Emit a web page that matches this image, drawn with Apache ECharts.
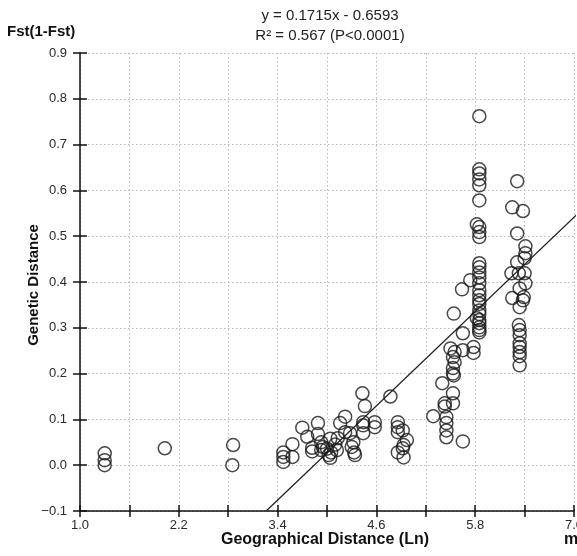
<!DOCTYPE html>
<html>
<head>
<meta charset="utf-8">
<script src="https://cdn.jsdelivr.net/npm/echarts@6/dist/echarts.min.js"></script>
<style>
html,body{margin:0;padding:0;background:#fff;overflow:hidden;}
#chart{width:577px;height:556px;}
</style>
</head>
<body>
<div id="chart"></div>
<script>
// ---- data ----
const xTicksLabelled = ['1.0','2.2','3.4','4.6','5.8','7.0'];
const yTickLabels = ['\u22120.1','0.0','0.1','0.2','0.3','0.4','0.5','0.6','0.7','0.8','0.9'];
const slope = 0.1715;
const intercept = -0.6593;
const titleLine1 = 'y = 0.1715x - 0.6593';
const titleLine2 = 'R\u00b2 = 0.567 (P<0.0001)';

const ptsLow = [
  [1.30,0.026],[1.30,0.011],[1.30,0.0],
  [2.03,0.037],
  [2.86,0.044],[2.85,0.0],
  [3.47,0.028],[3.47,0.018],[3.47,0.007],
  [3.58,0.046],[3.58,0.018]
];
const ptsMid = [
  [3.70,0.082],[3.76,0.062],[3.82,0.038],[3.82,0.030],
  [3.89,0.092],[3.89,0.068],[3.93,0.050],[3.93,0.033],[3.95,0.040],
  [4.04,0.058],[4.02,0.022],[4.05,0.028],[4.04,0.016],[4.00,0.036],
  [4.16,0.092],[4.22,0.106],[4.22,0.072],[4.13,0.059],[4.12,0.033],[4.10,0.045],
  [4.28,0.070],[4.32,0.050],[4.33,0.028],[4.34,0.022],[4.30,0.040],
  [4.43,0.157],[4.46,0.129],[4.44,0.094],[4.44,0.087],[4.44,0.070],
  [4.58,0.094],[4.58,0.083],
  [4.77,0.150],
  [4.86,0.094],[4.86,0.083],[4.86,0.072],[4.92,0.076],[4.97,0.055],[4.93,0.044],[4.86,0.028],[4.93,0.017],[4.92,0.037]
];
const ptsHigh = [
  [5.29,0.107],[5.40,0.179],[5.43,0.135],[5.43,0.128],[5.53,0.157],[5.53,0.135],
  [5.45,0.105],[5.45,0.092],[5.45,0.076],[5.45,0.061],[5.65,0.052],
  [5.50,0.255],[5.55,0.247],[5.53,0.236],[5.55,0.225],[5.53,0.212],[5.53,0.200],[5.54,0.196],
  [5.65,0.251],[5.78,0.258],[5.78,0.245],[5.65,0.288],[5.54,0.331],[5.64,0.384],[5.74,0.404]
];
const col585 = [
  [5.85,0.762],[5.85,0.646],[5.85,0.637],[5.85,0.624],[5.85,0.611],[5.85,0.578],
  [5.82,0.526],[5.85,0.520],[5.85,0.509],[5.85,0.498],
  [5.85,0.441],[5.85,0.432],[5.85,0.421],[5.85,0.410],[5.85,0.397],[5.85,0.382],
  [5.85,0.371],[5.85,0.360],[5.85,0.352],[5.85,0.338],[5.85,0.330],[5.82,0.321],
  [5.85,0.317],[5.85,0.310],[5.85,0.301],[5.85,0.295],[5.85,0.290]
];
const col635 = [
  [6.31,0.620],[6.25,0.563],[6.38,0.555],[6.31,0.506],[6.41,0.478],[6.41,0.463],
  [6.40,0.452],[6.31,0.443],[6.24,0.419],[6.33,0.419],[6.40,0.419],[6.41,0.397],
  [6.34,0.386],[6.25,0.365],[6.39,0.367],[6.34,0.345],[6.38,0.360],
  [6.33,0.306],[6.34,0.295],[6.34,0.284],[6.34,0.266],[6.34,0.258],[6.34,0.247],
  [6.34,0.238],[6.34,0.218]
];

const points = [].concat(ptsLow, ptsMid, ptsHigh, col585, col635);
const xMin = 1.0, xMax = 7.0, yMin = -0.1, yMax = 0.9;
const xStart = (yMin - intercept) / slope;
const xEnd = 7.05;
const regLine = [[xStart, yMin], [xEnd, slope * xEnd + intercept]];

const chart = echarts.init(document.getElementById('chart'), null, {renderer:'canvas'});
const font = '"Liberation Sans", Arial, sans-serif';
const gridLine = {show:true, lineStyle:{color:'#b8b8b8', type:[1.5,2.5], width:1}};

function xLab(v){
  const k = Math.round((v - xMin) / 0.6);
  return k % 2 === 0 ? xTicksLabelled[k/2] : '';
}
function yLab(v){
  const k = Math.round((v - yMin) / 0.1);
  return yTickLabels[k] || '';
}

chart.setOption({
  animation:false,
  backgroundColor:'#fff',
  title:[
    {text:titleLine1, left:325, top:3, textAlign:'center',
     textStyle:{fontFamily:font, fontSize:15, fontWeight:'normal', color:'#222'}},
    {text:titleLine2, left:325, top:23, textAlign:'center',
     textStyle:{fontFamily:font, fontSize:15, fontWeight:'normal', color:'#222'}}
  ],
  grid:{left:80, right:3, top:53, bottom:45, containLabel:false, outerBoundsMode:'none'},
  xAxis:[
    {type:'value', min:xMin, max:xMax, interval:0.6, position:'bottom',
     axisLine:{show:true, onZero:false, lineStyle:{color:'#111', width:1.5}},
     axisTick:{show:true, inside:false, length:6, lineStyle:{color:'#111', width:1.5}},
     axisLabel:{formatter:xLab, margin:8, fontFamily:font, fontSize:13, color:'#2a2a2a', showMaxLabel:true, showMinLabel:true, hideOverlap:false},
     splitLine:gridLine},
    {type:'value', min:xMin, max:xMax, interval:0.6, position:'bottom',
     axisLine:{show:false, onZero:false},
     axisTick:{show:true, inside:true, length:6, lineStyle:{color:'#111', width:1.5}},
     axisLabel:{show:false}, splitLine:{show:false}}
  ],
  yAxis:[
    {type:'value', min:yMin, max:yMax, interval:0.1, position:'left',
     axisLine:{show:true, onZero:false, lineStyle:{color:'#111', width:1.5}},
     axisTick:{show:true, inside:false, length:7, lineStyle:{color:'#111', width:1.5}},
     axisLabel:{formatter:yLab, margin:13, fontFamily:font, fontSize:13, color:'#2a2a2a'},
     splitLine:gridLine},
    {type:'value', min:yMin, max:yMax, interval:0.1, position:'left',
     axisLine:{show:false, onZero:false},
     axisTick:{show:true, inside:true, length:7, lineStyle:{color:'#111', width:1.5}},
     axisLabel:{show:false}, splitLine:{show:false}}
  ],
  graphic:[
    {type:'text', left:7, top:24, style:{text:'Fst(1-Fst)', font:'bold 15px '+font, fill:'#111'}},
    {type:'text', x:26, y:285, rotation:Math.PI/2,
     style:{text:'Genetic Distance', font:'bold 15px '+font, fill:'#111', align:'center', verticalAlign:'top'}},
    {type:'text', x:325, y:532, style:{text:'Geographical Distance (Ln)', font:'bold 16px '+font, fill:'#111', align:'center', verticalAlign:'top'}},
    {type:'text', x:564, y:532, style:{text:'m', font:'bold 16px '+font, fill:'#111', align:'left', verticalAlign:'top'}}
  ],
  series:[
    {type:'line', data:regLine, xAxisIndex:0, yAxisIndex:0, symbol:'none', silent:true,
     lineStyle:{color:'#222', width:1.3}, clip:false, z:3},
    {type:'scatter', data:points, xAxisIndex:0, yAxisIndex:0, symbol:'circle', symbolSize:13,
     itemStyle:{color:'rgba(255,255,255,0)', borderColor:'#1a1a1a', borderWidth:1.5}, z:4}
  ]
});
</script>
</body>
</html>
